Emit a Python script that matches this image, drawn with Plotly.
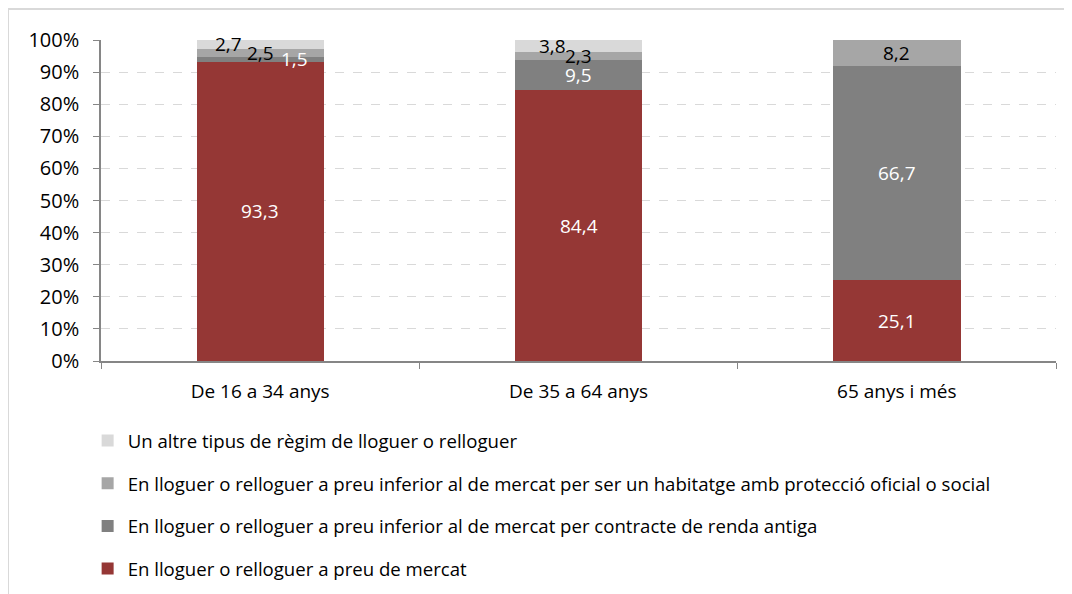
import plotly.graph_objects as go

categories = ["De 16 a 34 anys", "De 35 a 64 anys", "65 anys i més"]

series_names = [
    "En lloguer o relloguer a preu de mercat",
    "En lloguer o relloguer a preu inferior al de mercat per contracte de renda antiga",
    "En lloguer o relloguer a preu inferior al de mercat per ser un habitatge amb protecció oficial o social",
    "Un altre tipus de règim de lloguer o relloguer",
]
mercat = [93.3, 84.4, 25.1]
renda_antiga = [1.5, 9.5, 66.7]
proteccio = [2.5, 2.3, 8.2]
altre = [2.7, 3.8, 0.0]

y_ticks = [0, 10, 20, 30, 40, 50, 60, 70, 80, 90, 100]

colors = ["#953735", "#808080", "#A6A6A6", "#D9D9D9"]
label_colors = ["white", "white", "black", "black"]
# manual nudges for the small, overlapping labels (series index, category index) -> px
label_xshift = {(1, 0): 34, (3, 0): -32, (3, 1): -26}

FONT = "Open Sans"

series_values = [mercat, renda_antiga, proteccio, altre]

fig = go.Figure()
for i, (name, vals) in enumerate(zip(series_names, series_values)):
    fig.add_trace(
        go.Bar(
            x=categories,
            y=vals,
            name=name,
            legendgroup=f"g{i}",
            legendrank=len(series_names) - i,
            marker=dict(color=colors[i], line=dict(width=0)),
            hoverinfo="skip",
        )
    )

annotations = []
for ci, cat in enumerate(categories):
    base = 0.0
    for si, vals in enumerate(series_values):
        v = vals[ci]
        if v > 0:
            annotations.append(
                dict(
                    x=cat,
                    y=base + v / 2,
                    xref="x",
                    yref="y",
                    text=f"{v:.1f}".replace(".", ","),
                    showarrow=False,
                    xshift=label_xshift.get((si, ci), 0),
                    font=dict(family=FONT, size=19, color=label_colors[si]),
                )
            )
        base += v

# the page body adds an 8px offset; the figure runs a little past the window bottom
fig.update_layout(
    barmode="stack",
    bargap=0.6,
    width=1064,
    height=600,
    margin=dict(l=93, r=16, t=32, b=247),
    paper_bgcolor="white",
    plot_bgcolor="white",
    font=dict(family=FONT, size=19, color="black"),
    annotations=annotations,
    legend=dict(
        traceorder="grouped",
        tracegroupgap=15.5,
        x=-0.014,
        xanchor="left",
        y=-0.19,
        yanchor="top",
        font=dict(family=FONT, size=18.6, color="black"),
        bgcolor="rgba(0,0,0,0)",
    ),
    shapes=[
        dict(type="line", xref="paper", yref="paper",
             x0=-0.0974, x1=1.03, y0=1.0966, y1=1.0966,
             line=dict(color="#D9D9D9", width=2)),
        dict(type="line", xref="paper", yref="paper",
             x0=-0.0974, x1=-0.0974, y0=1.0966, y1=-0.8,
             line=dict(color="#D9D9D9", width=2)),
    ],
)

fig.update_xaxes(
    showline=True,
    linecolor="#868686",
    linewidth=1.5,
    ticks="outside",
    tickson="boundaries",
    ticklen=6,
    tickcolor="#868686",
    showgrid=False,
    ticklabelstandoff=12,
    tickfont=dict(family=FONT, size=19),
)
fig.update_yaxes(
    range=[0, 100],
    tickvals=y_ticks,
    ticktext=[f"{t}%" for t in y_ticks],
    showline=True,
    linecolor="#868686",
    linewidth=1.5,
    ticks="outside",
    ticklen=6,
    tickcolor="#868686",
    showgrid=True,
    gridcolor="#D9D9D9",
    griddash="dash",
    gridwidth=1,
    zeroline=False,
    ticklabelstandoff=10,
    tickfont=dict(family=FONT, size=20),
)

fig.write_html("out.html")
